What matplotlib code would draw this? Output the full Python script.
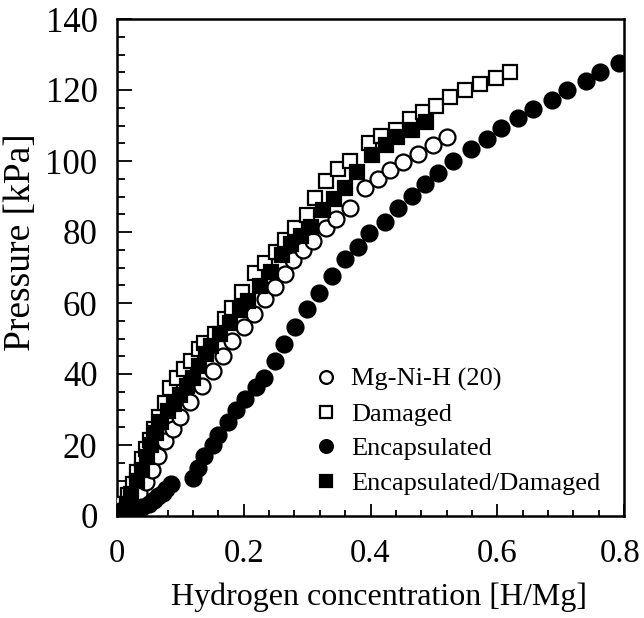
import numpy as np
import matplotlib
matplotlib.use('Agg')
import matplotlib.pyplot as plt
import matplotlib.transforms as mtransforms
from matplotlib.ticker import MultipleLocator

plt.rcParams['font.family'] = ['Liberation Serif', 'DejaVu Serif']

#### Data: pressure [kPa] vs hydrogen concentration [H/Mg]

# Mg-Ni-H (20)
x_mgnih = [0.003, 0.012, 0.022, 0.034, 0.045, 0.055, 0.065, 0.076, 0.088, 0.100,
           0.115, 0.134, 0.151, 0.167, 0.181, 0.200, 0.216, 0.233, 0.249, 0.265,
           0.278, 0.294, 0.310, 0.329, 0.346, 0.368, 0.392, 0.412, 0.430, 0.452,
           0.475, 0.498, 0.521]
p_mgnih = [1.0, 2.2, 4.0, 6.5, 9.5, 13.0, 17.0, 21.0, 24.6, 28.0,
           32.0, 36.7, 40.9, 45.2, 49.4, 53.1, 57.0, 61.0, 64.4, 68.3,
           72.0, 74.8, 77.6, 81.0, 83.8, 86.9, 92.3, 95.0, 97.4, 99.6,
           101.9, 104.4, 106.7]

# Damaged
x_dam = [0.003, 0.010, 0.017, 0.025, 0.032, 0.040, 0.046, 0.052, 0.059, 0.066,
         0.075, 0.083, 0.095, 0.106, 0.116, 0.130, 0.138, 0.154, 0.170, 0.181,
         0.198, 0.217, 0.233, 0.251, 0.265, 0.281, 0.300, 0.313, 0.329, 0.349,
         0.368, 0.398, 0.417, 0.440, 0.462, 0.483, 0.503, 0.525, 0.549, 0.573,
         0.598, 0.620]
p_dam = [1.5, 3.5, 6.0, 9.0, 12.5, 16.0, 19.0, 21.5, 24.6, 28.0,
         31.9, 36.1, 38.9, 41.5, 43.7, 47.1, 48.8, 51.4, 55.6, 58.7,
         63.0, 68.4, 71.2, 74.5, 77.8, 81.0, 84.7, 89.7, 94.5, 97.8,
         100.1, 105.0, 107.0, 108.8, 111.7, 113.8, 115.4, 118.1, 119.9, 121.8,
         123.5, 125.1]

# Encapsulated
x_enc = [0.010, 0.020, 0.030, 0.040, 0.050, 0.058, 0.065, 0.072, 0.078, 0.085,
         0.120, 0.128, 0.138, 0.151, 0.160, 0.175, 0.188, 0.202, 0.219, 0.232,
         0.249, 0.264, 0.281, 0.300, 0.318, 0.340, 0.360, 0.381, 0.398, 0.423,
         0.443, 0.465, 0.486, 0.506, 0.530, 0.559, 0.584, 0.606, 0.633, 0.656,
         0.686, 0.710, 0.740, 0.762, 0.792]
p_enc = [0.5, 1.0, 1.8, 2.6, 3.5, 4.5, 5.5, 6.6, 7.6, 9.0,
         10.7, 13.5, 16.8, 20.0, 22.8, 26.5, 29.8, 33.0, 36.2, 38.9,
         43.6, 48.5, 53.3, 58.4, 62.8, 67.6, 72.3, 75.9, 79.6, 82.8,
         86.7, 90.1, 93.5, 96.6, 99.9, 103.3, 106.1, 109.2, 112.0, 114.6,
         117.1, 119.9, 122.4, 125.0, 127.6]

# Encapsulated/Damaged
x_encdam = [0.008, 0.015, 0.022, 0.032, 0.040, 0.047, 0.054, 0.062, 0.070, 0.080,
            0.090, 0.100, 0.110, 0.120, 0.130, 0.140, 0.148, 0.163, 0.178, 0.194,
            0.206, 0.225, 0.243, 0.260, 0.275, 0.290, 0.306, 0.325, 0.343, 0.360,
            0.378, 0.402, 0.424, 0.442, 0.465, 0.487]
p_encdam = [1.5, 3.5, 6.2, 9.9, 13.0, 16.5, 20.0, 23.5, 26.5, 29.5,
            31.5, 34.0, 36.5, 39.0, 42.3, 45.7, 48.0, 51.4, 54.5, 57.9,
            60.7, 64.9, 68.6, 73.5, 76.5, 79.0, 81.3, 86.1, 89.4, 92.3,
            96.8, 101.6, 104.4, 106.8, 108.7, 111.0]

xticks = [0, 0.2, 0.4, 0.6, 0.8]
xticklabels = ['0', '0.2', '0.4', '0.6', '0.8']

#### Plot

fig = plt.figure(figsize=(6.44, 6.18), dpi=100)
ax = fig.add_axes([117/644, 1-516/618, 507/644, 497/618])

ms_c = 11.5
ms_s = 10.5
ew = 1.6
ax.plot(x_dam, p_dam, ls='none', marker='s', ms=ms_s, mfc='white', mec='black', mew=ew, label='Damaged', zorder=3)
ax.plot(x_mgnih, p_mgnih, ls='none', marker='o', ms=ms_c, mfc='white', mec='black', mew=ew, label='Mg-Ni-H (20)', zorder=4)
ax.plot(x_enc, p_enc, ls='none', marker='o', ms=ms_c, mfc='black', mec='black', mew=ew, label='Encapsulated', zorder=5)
ax.plot(x_encdam, p_encdam, ls='none', marker='s', ms=ms_s, mfc='black', mec='black', mew=ew, label='Encapsulated/Damaged', zorder=6)

ax.set_xlim(0, 0.8)
ax.set_ylim(0, 140)
ax.set_xticks(xticks)
ax.set_xticklabels(xticklabels)
ax.xaxis.set_minor_locator(MultipleLocator(0.04))
ax.yaxis.set_major_locator(MultipleLocator(20))
ax.yaxis.set_minor_locator(MultipleLocator(5))

ax.tick_params(axis='both', which='both', direction='in', width=1.3, colors='black')
ax.tick_params(axis='x', which='major', length=9, pad=16, labelsize=23.5)
ax.tick_params(axis='x', which='minor', length=4)
ax.tick_params(axis='y', which='major', length=11, pad=14, labelsize=25)
ax.tick_params(axis='y', which='minor', length=6)
for sp in ax.spines.values():
    sp.set_linewidth(1.8)

# nudge the last x label so it stays inside the figure
last = ax.get_xticklabels()[-1]
last.set_transform(last.get_transform() + mtransforms.ScaledTranslation(-3/72, 0, fig.dpi_scale_trans))

ax.set_xlabel('Hydrogen concentration [H/Mg]', fontsize=23)
ax.xaxis.set_label_coords(0.517, -0.134)
ax.set_ylabel('Pressure [kPa]', fontsize=27)
ax.yaxis.set_label_coords(-0.155, 0.55)

handles, labels = ax.get_legend_handles_labels()
order = [1, 0, 2, 3]
ax.legend([handles[i] for i in order], [labels[i] for i in order],
          loc='lower left', bbox_to_anchor=(0.355, 0.005), frameon=False,
          fontsize=19, markerscale=0.8, handlelength=0.8, handletextpad=0.55,
          labelspacing=0.42, borderpad=0.2)

fig.savefig('out.png', dpi=100)
